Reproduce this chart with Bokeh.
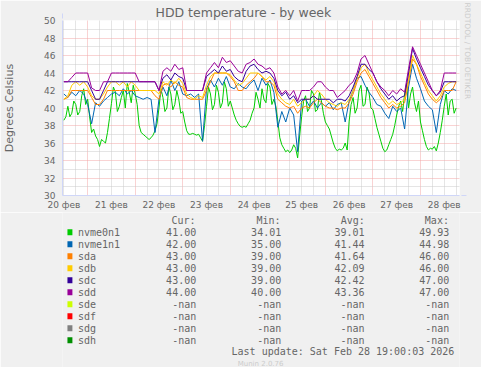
import math
from bokeh.plotting import figure
from bokeh.models import Range1d, FixedTicker, Arrow, NormalHead, Title
from bokeh.layouts import column
from bokeh.embed import file_html
from bokeh.resources import INLINE
from bokeh.core.properties import value

# ---------------- data ----------------
# time axis: hours since 20 Feb 00:00
hours = list(range(12, 211, 2))        # 2-hourly samples
hours_fine = list(range(12, 211))      # hourly samples (nvme0n1)

day_labels = ["20 фев", "21 фев", "22 фев", "23 фев", "24 фев",
              "25 фев", "26 фев", "27 фев", "28 фев"]
y_ticks = [30, 32, 34, 36, 38, 40, 42, 44, 46, 48, 50]

nvme0n1 = [38.6, 39.0, 40.2, 39.0, 39.4, 40.8, 40.4, 39.2, 39.6, 41.4,
           42.2, 40.4, 41.0, 39.0, 37.2, 37.6, 36.8, 36.4, 35.6, 36.4,
           36.2, 36.0, 37.2, 38.8, 40.5, 42.4, 41.8, 39.6, 40.2, 41.2,
           42.0, 40.0, 42.8, 41.8, 40.6, 42.6, 41.6, 40.4, 38.0, 37.2,
           37.0, 36.8, 36.6, 36.4, 36.6, 36.9, 37.4, 38.2, 40.0, 42.2,
           41.2, 39.6, 40.0, 42.4, 41.6, 39.8, 40.4, 42.0, 41.0, 39.4,
           39.6, 38.4, 37.4, 37.0, 37.0, 37.1, 37.0, 36.9, 37.0, 36.6,
           36.2, 38.0, 40.2, 42.4, 41.6, 39.8, 40.4, 42.6, 41.8, 40.0,
           40.6, 43.0, 42.2, 40.2, 40.8, 40.0, 39.2, 38.6, 38.2, 37.9,
           37.8, 37.9, 37.8, 38.2, 38.6, 39.4, 40.0, 41.8, 41.0, 40.0,
           42.2, 41.0, 40.6, 42.8, 42.4, 40.4, 41.0, 40.2, 38.5, 36.6,
           35.8, 35.4, 35.0, 35.2, 34.9, 35.2, 35.8, 35.4, 34.3, 36.8,
           39.0, 40.8, 41.4, 39.6, 40.0, 42.0, 41.6, 39.6, 39.8, 41.8,
           40.8, 39.4, 38.4, 38.0, 37.6, 36.8, 36.0, 35.4, 35.1, 35.3,
           35.2, 35.4, 36.0, 35.2, 38.5, 40.4, 41.2, 39.4, 40.0, 42.0,
           42.6, 40.2, 40.4, 42.4, 41.8, 40.0, 39.8, 38.8, 37.8, 37.0,
           36.2, 35.4, 35.0, 35.2, 35.8, 36.4, 37.0, 38.0, 39.2, 40.2,
           40.8, 39.6, 41.6, 42.8, 40.0, 41.6, 42.4, 40.6, 39.6, 40.8,
           38.4, 37.4, 36.4, 35.6, 35.2, 35.4, 35.3, 35.6, 35.1, 36.0,
           37.2, 38.6, 40.2, 41.6, 39.2, 40.8, 41.0, 39.4, 40.0]

nvme1n1 = [41.6, 41.2, 41.8, 41.4, 42.0, 41.6, 40.4, 38.2, 40.6, 40.2,
           40.8, 41.2, 41.6, 41.8, 41.4, 42.2, 41.6, 42.0, 41.4, 41.2,
           41.0, 41.2, 41.0, 37.2, 41.0, 42.4, 41.4, 43.2, 42.0, 43.0,
           41.6, 41.4, 41.6, 41.2, 41.6, 36.2, 42.2, 43.2, 42.4, 43.4,
           42.6, 43.6, 42.4, 42.2, 42.8, 42.4, 42.2, 42.8, 43.2, 42.0,
           43.4, 42.6, 43.2, 41.8, 37.8, 39.6, 38.4, 40.0, 39.2, 35.0,
           40.8, 41.0, 40.2, 40.8, 40.0, 40.6, 40.2, 40.6, 39.8, 40.4,
           40.6, 38.4, 40.8, 42.0, 43.4, 43.6, 42.6, 41.8, 41.2, 40.4,
           40.2, 39.4, 38.8, 40.2, 39.6, 40.0, 37.6, 42.4, 45.0, 43.4,
           42.2, 40.8, 40.2, 39.8, 37.2, 40.4, 42.0, 41.6, 42.2, 42.0]

sda = [41.0, 41.2, 42.0, 42.0, 42.0, 42.0, 42.0, 41.2, 40.4, 40.4,
       41.0, 42.0, 42.0, 42.0, 42.0, 42.0, 42.0, 42.0, 42.0, 42.0,
       42.0, 42.0, 42.0, 41.4, 41.0, 42.6, 42.8, 42.4, 43.0, 42.6,
       42.4, 41.2, 41.0, 41.0, 41.0, 41.0, 42.0, 43.0, 44.0, 44.0,
       44.0, 44.0, 43.6, 43.0, 42.0, 42.0, 42.6, 43.0, 43.4, 44.0,
       43.6, 43.0, 43.0, 42.6, 41.0, 40.6, 40.2, 40.0, 40.2, 39.4,
       40.0, 40.2, 40.0, 40.6, 41.0, 40.6, 40.2, 40.0, 40.0, 39.8,
       40.0, 40.0, 40.6, 41.6, 43.0, 44.0, 44.4, 43.6, 42.8, 42.0,
       41.2, 40.6, 40.0, 40.4, 40.0, 40.2, 40.6, 43.0, 45.6, 45.0,
       43.6, 42.6, 41.6, 41.0, 40.6, 41.0, 42.0, 42.0, 42.0, 43.0]

sdb = [41.0, 41.4, 42.6, 43.0, 42.6, 43.0, 42.4, 41.4, 41.0, 41.0,
       41.6, 42.4, 43.0, 43.0, 42.6, 43.0, 42.4, 43.0, 42.6, 42.0,
       42.0, 42.0, 42.0, 42.0, 41.6, 43.0, 42.6, 43.2, 42.8, 43.4,
       42.8, 41.6, 41.2, 41.0, 41.4, 41.2, 42.6, 43.6, 44.0, 44.0,
       44.0, 44.0, 43.8, 43.2, 42.6, 42.8, 43.4, 44.0, 44.0, 44.0,
       43.6, 43.2, 43.6, 43.0, 41.6, 41.0, 40.6, 40.4, 41.0, 40.2,
       40.6, 41.0, 41.0, 41.4, 42.0, 41.6, 41.0, 40.6, 40.4, 40.2,
       40.6, 40.4, 41.0, 42.0, 43.4, 44.6, 45.0, 44.0, 43.2, 42.4,
       41.6, 41.0, 40.4, 40.8, 40.4, 40.6, 41.0, 43.4, 46.0, 45.0,
       44.0, 43.0, 42.0, 41.4, 40.8, 41.4, 42.4, 42.8, 43.0, 43.0]

sdc = [43.0, 43.0, 43.0, 43.0, 43.0, 43.0, 43.0, 42.0, 41.0, 41.0,
       42.0, 43.0, 43.0, 43.0, 43.0, 43.0, 43.0, 43.0, 43.0, 43.0,
       43.0, 43.0, 43.0, 43.0, 42.0, 43.4, 43.8, 43.2, 44.0, 43.6,
       43.4, 42.0, 42.0, 42.0, 42.0, 42.0, 43.6, 44.0, 44.4, 44.0,
       44.8, 44.2, 44.4, 43.6, 43.2, 43.0, 44.2, 44.8, 45.0, 44.4,
       44.0, 44.2, 44.0, 43.4, 42.0, 41.4, 41.8, 41.0, 41.4, 40.6,
       41.0, 41.0, 41.0, 41.4, 41.0, 41.0, 41.0, 41.0, 40.6, 41.0,
       41.0, 40.8, 41.4, 42.4, 43.6, 45.0, 45.0, 44.4, 44.0, 43.0,
       42.2, 41.6, 41.0, 41.4, 40.8, 41.2, 41.4, 44.0, 46.8, 45.6,
       44.6, 43.6, 42.6, 42.0, 41.4, 41.8, 43.0, 43.0, 43.0, 43.0]

sdd = [43.0, 43.0, 43.5, 44.0, 44.0, 44.0, 44.0, 42.3, 42.0, 42.0,
       43.0, 43.0, 44.0, 44.0, 44.0, 44.0, 44.0, 44.0, 44.0, 43.0,
       43.0, 43.0, 43.0, 43.0, 42.0, 44.2, 44.6, 44.2, 45.0, 44.4,
       44.6, 42.0, 42.0, 42.0, 42.0, 42.0, 44.0, 44.6, 45.2, 44.6,
       45.8, 45.2, 45.4, 44.8, 44.2, 44.0, 45.0, 45.2, 45.6, 45.0,
       44.8, 44.4, 44.6, 44.0, 42.4, 41.6, 42.0, 41.4, 42.0, 40.8,
       42.0, 42.0, 42.0, 42.4, 43.0, 43.0, 42.4, 42.0, 42.0, 41.2,
       41.6, 42.0, 42.6, 43.0, 44.0, 45.6, 46.0, 45.0, 44.0, 43.0,
       42.4, 42.0, 41.4, 42.0, 41.6, 42.2, 41.8, 44.5, 47.0, 46.0,
       45.0, 44.0, 43.0, 42.0, 41.4, 42.0, 44.0, 44.0, 44.0, 44.0]

names = ["nvme0n1", "nvme1n1", "sda", "sdb", "sdc", "sdd", "sde", "sdf", "sdg", "sdh"]
colors = ["#00CC00", "#0066B3", "#FF8000", "#FFCC00", "#330099",
          "#990099", "#CCFF00", "#FF0000", "#808080", "#008F00"]
cur_vals = ["41.00", "42.00", "43.00", "43.00", "43.00", "44.00", "-nan", "-nan", "-nan", "-nan"]
min_vals = ["34.01", "35.00", "39.00", "39.00", "39.00", "40.00", "-nan", "-nan", "-nan", "-nan"]
avg_vals = ["39.01", "41.44", "41.64", "42.09", "42.42", "43.36", "-nan", "-nan", "-nan", "-nan"]
max_vals = ["49.93", "44.98", "46.00", "46.00", "47.00", "47.00", "-nan", "-nan", "-nan", "-nan"]
last_update = "Last update: Sat Feb 28 19:00:03 2026"

# ---------------- styling ----------------
BG = "#F0F0F0"
FONT_C = "#666666"
AXIS_C = "#CFD6F8"
MGRID = "#F2A6A6"
GRID = "#CACACA"

W, H1, H2 = 481, 212, 155
X0 = 11.3
XPX = 1.996  # px per hour
x_end = X0 + 400 / XPX

p = figure(width=W, height=H1, output_backend="svg", toolbar_location=None,
           x_range=Range1d(X0, x_end), y_range=Range1d(30, 50),
           min_border_left=59, min_border_right=22, min_border_top=20, min_border_bottom=17)
p.background_fill_color = "white"
p.border_fill_color = BG
p.outline_line_color = None

p.title.text = "HDD temperature - by week"
p.title.align = "left"
p.title.offset = 93
p.title.standoff = 2
p.title.text_font = "DejaVu Sans"
p.title.text_font_size = "12.5px"
p.title.text_font_style = "normal"
p.title.text_color = FONT_C

p.add_layout(Title(text="RRDTOOL / TOBI OETIKER", align="left", offset=-18, standoff=6,
                   text_font="DejaVu Sans", text_font_size="7.5px",
                   text_font_style="normal", text_color="#CCCCCC"), "right")

noons = [12 + 24 * i for i in range(len(day_labels))]
midnights = [24 * i for i in range(1, 9)]
six_h = [h for h in range(6, 212, 6) if h % 24 != 0]

p.xaxis.ticker = FixedTicker(ticks=noons)
p.xaxis.major_label_overrides = {n: lab for n, lab in zip(noons, day_labels)}
p.yaxis.ticker = FixedTicker(ticks=y_ticks)
for ax in (p.xaxis, p.yaxis):
    ax.axis_line_color = AXIS_C
    ax.major_tick_line_color = None
    ax.minor_tick_line_color = None
    ax.major_tick_out = 0
    ax.major_tick_in = 0
    ax.minor_tick_out = 0
    ax.minor_tick_in = 0
    ax.major_label_text_font = "DejaVu Sans"
    ax.major_label_text_font_size = "9px"
    ax.major_label_text_color = FONT_C
p.xaxis.major_label_standoff = 4
p.yaxis.major_label_standoff = 7
p.yaxis.axis_label = "Degrees Celsius"
p.yaxis.axis_label_text_font = "DejaVu Sans"
p.yaxis.axis_label_text_font_size = "11px"
p.yaxis.axis_label_text_font_style = "normal"
p.yaxis.axis_label_text_color = FONT_C
p.yaxis.axis_label_standoff = 25

p.xgrid.ticker = FixedTicker(ticks=midnights, minor_ticks=six_h)
p.ygrid.ticker = FixedTicker(ticks=y_ticks, minor_ticks=[t + 1 for t in y_ticks[:-1]])
for g in (p.xgrid, p.ygrid):
    g.grid_line_color = MGRID
    g.grid_line_dash = "1 1"
    g.grid_line_width = 1
    g.minor_grid_line_color = GRID
    g.minor_grid_line_dash = "1 1"
    g.minor_grid_line_width = 1

p.line(hours_fine, nvme0n1, line_color=colors[0], line_width=1)
for vals, col in zip([nvme1n1, sda, sdb, sdc, sdd], colors[1:6]):
    p.line(hours, vals, line_color=col, line_width=1)

# axis arrows
p.add_layout(Arrow(end=NormalHead(size=5, fill_color=AXIS_C, line_color=AXIS_C),
                   x_start=X0, y_start=50, x_end=X0, y_end=50 + 7 / 8.75,
                   line_color=AXIS_C, line_width=1))
p.add_layout(Arrow(end=NormalHead(size=5, fill_color=AXIS_C, line_color=AXIS_C),
                   x_start=x_end, y_start=30, x_end=x_end + 7 / XPX, y_end=30,
                   line_color=AXIS_C, line_width=1))

# ---------------- legend ----------------
p2 = figure(width=W, height=H2, output_backend="svg", toolbar_location=None,
            x_range=Range1d(0, W), y_range=Range1d(H2, 0),
            x_axis_location=None, y_axis_location=None, min_border=0)
p2.background_fill_color = BG
p2.border_fill_color = BG
p2.outline_line_color = None
p2.grid.visible = False

rows_y = [19.7 + 12 * i for i in range(len(names))]
mono = value("DejaVu Sans Mono")
p2.rect(x=[9] * len(names), y=rows_y, width=6, height=6, fill_color=colors, line_color=None)
p2.text(x=[18.7] * len(names), y=rows_y, text=names, text_font=mono, text_font_size="10px",
        text_color=FONT_C, text_align="left", text_baseline="middle")
for xr, vals in zip([162, 265, 366, 468.7], [cur_vals, min_vals, avg_vals, max_vals]):
    p2.text(x=[xr] * len(vals), y=rows_y, text=vals, text_font=mono, text_font_size="10px",
            text_color=FONT_C, text_align="right", text_baseline="middle")
p2.text(x=[132, 235, 337, 439], y=[7.7] * 4, text=["Cur:", "Min:", "Avg:", "Max:"],
        text_font=mono, text_font_size="10px", text_color=FONT_C,
        text_align="left", text_baseline="middle")
p2.text(x=[474.7], y=[139.3], text=[last_update], text_font=mono, text_font_size="10px",
        text_color=FONT_C, text_align="right", text_baseline="middle")
p2.text(x=[240], y=[151.5], text=["Munin 2.0.76"], text_font=value("DejaVu Sans"),
        text_font_size="7px", text_color="#CCCCCC", text_align="center",
        text_baseline="middle")

layout = column(p, p2, spacing=0)
open("out.html", "w").write(file_html(layout, INLINE))
